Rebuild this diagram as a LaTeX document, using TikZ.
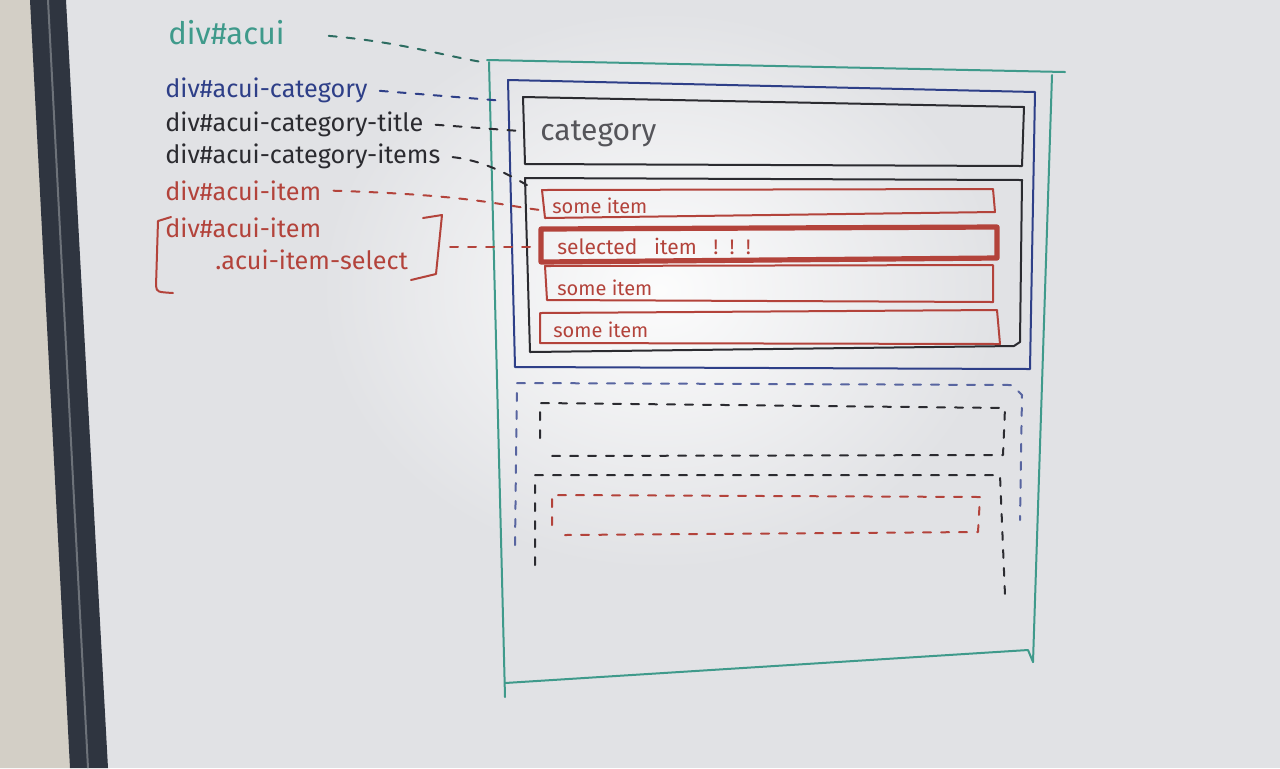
\documentclass[tikz,border=0pt]{standalone}
\usepackage{fontspec}
\setmainfont{Fira Sans}
\definecolor{board}{HTML}{E1E2E5}
\definecolor{wallc}{HTML}{D3CFC6}
\definecolor{barc}{HTML}{2F3540}
\definecolor{tealc}{HTML}{3F9A8B}
\definecolor{bluec}{HTML}{2E3F88}
\definecolor{blackc}{HTML}{2B2B30}
\definecolor{redc}{HTML}{B3433B}
\begin{document}
\begin{tikzpicture}[x=0.5pt,y=-0.5pt,
  hand/.style={line width=1pt, line cap=round, line join=round},
  dsh/.style={hand, dash pattern=on 4pt off 5pt},
  lbl/.style={anchor=base west, inner sep=0pt, font=\fontsize{12.6}{14}\selectfont},
  itemtxt/.style={anchor=base west, inner sep=0pt, text=redc, font=\fontsize{10}{12}\selectfont}]
\useasboundingbox (0,0) rectangle (1280,768);
% board, glare, wall and frame
\fill[board] (0,0) rectangle (1280,768);
\shade[inner color=white!90!board, outer color=board] (660,290) ellipse [x radius=340, y radius=280];
\fill[wallc] (0,0) -- (32,0) -- (72,768) -- (0,768) -- cycle;
\fill[barc] (30,0) -- (66,0) -- (108,768) -- (70,768) -- cycle;
\draw[line width=1pt, color=barc!70!white] (48,0) -- (88,768);

% labels
\node[lbl, text=tealc, font=\fontsize{15.5}{17}\selectfont] (lacui) at (168,44) {div\#acui};
\node[lbl, text=bluec] (lcat) at (165,97) {div\#acui-category};
\node[lbl, text=blackc] (ltitle) at (165,131) {div\#acui-category-title};
\node[lbl, text=blackc] (litems) at (165,163) {div\#acui-category-items};
\node[lbl, text=redc] (litem) at (165,200) {div\#acui-item};
\node[lbl, text=redc] (lsel1) at (165,237) {div\#acui-item};
\node[lbl, text=redc] (lsel2) at (215,269) {.acui-item-select};
% bracket around the selected label
\draw[hand, redc] (171,217) -- (158,221) -- (156,286) .. controls (157,292) .. (173,293);
\coordinate (brk) at (442,247);
\draw[hand, redc] (423,218) -- (442,215) -- (436,274) -- (411,280);

% outer teal box (div#acui)
\draw[hand, tealc] (487,60) -- (1065,72);
\draw[hand, tealc] (489,62) -- (505,697);
\draw[hand, tealc] (1052,75) -- (1033,662);
\draw[hand, tealc] (505,683) -- (1028,650) -- (1033,662);
% blue category box
\draw[hand, bluec] (508,80) -- (1035,92) -- (1030,369) -- (515,367) -- cycle;
% title box
\draw[hand, blackc] (523,97) -- (1024,107) -- (1022,166) -- (525,164) -- cycle;
\node[anchor=base west, inner sep=0pt, text=blackc!80, font=\fontsize{15}{17}\selectfont] (tcat) at (540,140) {category};
% items box
\draw[hand, blackc] (525,178) -- (1022,180) -- (1020,342) -- (1014,346) -- (530,352) -- cycle;
% items
\draw[hand, redc] (542,190) -- (993,189) -- (995,212) -- (545,218) -- cycle;
\node[itemtxt] (i1) at (552,213) {some item};
\draw[redc, line width=2.6pt, line join=round] (541,229) -- (997,227) -- (997,258) -- (541,262) -- cycle;
\node[itemtxt, font=\fontsize{10.5}{12}\selectfont] (i2) at (557,254) {selected\ \ \ item\ \ \ !\ \ !\ \ !};
\draw[hand, redc] (545,266) -- (993,265) -- (993,302) -- (547,300) -- cycle;
\node[itemtxt] (i3) at (557,295) {some item};
\draw[hand, redc] (540,313) -- (997,310) -- (1000,344) -- (540,343) -- cycle;
\node[itemtxt] (i4) at (553,337) {some item};

% anchor points on the boxes
\coordinate (bacui) at (482,62);
\coordinate (bcat) at (505,101);
\coordinate (btitle) at (520,131);
\coordinate (bitems) at (532,188);
\coordinate (bitem) at (540,210);
\coordinate (bsel) at (540,247);

% connectors
\draw[dsh, tealc!70!black, shorten <=22pt] (lacui.east) .. controls (400,42) and (445,56) .. (bacui);
\draw[dsh, bluec, shorten <=6pt] (lcat.east) -- (bcat);
\draw[dsh, blackc, shorten <=6pt] (ltitle.east) -- (btitle);
\draw[dsh, blackc, shorten <=6pt] (litems.east) .. controls (480,160) and (505,172) .. (bitems);
\draw[dsh, redc, shorten <=6pt] (litem.east) .. controls (470,195) and (500,205) .. (bitem);
\draw[dsh, redc, shorten <=4pt] (brk) -- (bsel);

% dashed lower (repeated) category
\draw[dsh, bluec!80] (515,545) -- (517,383) -- (1012,385) -- (1022,395) -- (1020,520);
\draw[dsh, blackc] (540,438) -- (540,403) -- (1005,408) -- (1003,455) -- (545,456);
\draw[dsh, blackc] (535,565) -- (535,475) -- (1000,475) -- (1005,595);
\draw[dsh, redc] (552,525) -- (552,495) -- (980,497) -- (978,532) -- (565,535);
\end{tikzpicture}
\end{document}
